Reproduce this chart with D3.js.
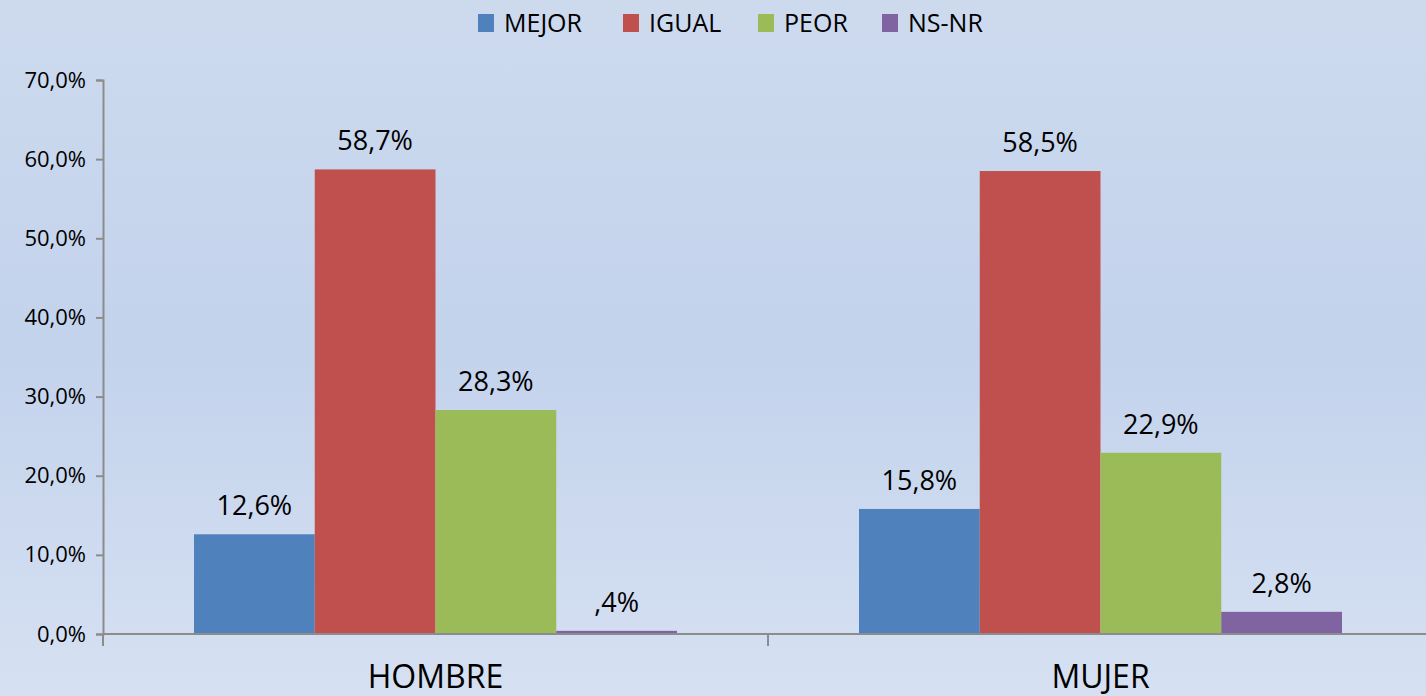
<!DOCTYPE html>
<html>
<head>
<meta charset="utf-8">
<script src="https://cdn.jsdelivr.net/npm/d3@7"></script>
<style>
  body { margin: 0; }
  svg { display: block; font-family: "Open Sans", sans-serif; }
</style>
</head>
<body>
<div id="chart"></div>
<script>
const categories = ["HOMBRE", "MUJER"];
const seriesNames = ["MEJOR", "IGUAL", "PEOR", "NS-NR"];
const seriesColors = ["#4f81bd", "#c0504d", "#9bbb59", "#8064a2"];
const mejor = [12.6, 15.8];
const igual = [58.7, 58.5];
const peor = [28.3, 22.9];
const nsnr = [0.4, 2.8];
const yTicks = [0, 10, 20, 30, 40, 50, 60, 70];

const values = [mejor, igual, peor, nsnr];
const data = categories.map((c, i) => ({
  cat: c,
  vals: seriesNames.map((s, j) => ({ key: s, value: values[j][i], color: seriesColors[j] }))
}));

const W = 1426, H = 696;
const plot = { left: 103, right: 1433, top: 80, bottom: 634 };

const svg = d3.select("#chart").append("svg")
  .attr("width", W)
  .attr("height", H);

// background gradient
const grad = svg.append("defs").append("linearGradient")
  .attr("id", "bg").attr("x1", 0).attr("y1", 0).attr("x2", 0).attr("y2", 1);
grad.append("stop").attr("offset", "0%").attr("stop-color", "#cddaee");
grad.append("stop").attr("offset", "50%").attr("stop-color", "#c3d3ec");
grad.append("stop").attr("offset", "100%").attr("stop-color", "#d6e0f2");
svg.append("rect").attr("width", W).attr("height", H).attr("fill", "url(#bg)");

const fmtNum = v => d3.format(".1f")(v).replace(".", ",");
const fmtLabel = v => {
  let s = fmtNum(v);
  if (s.startsWith("0,")) s = s.slice(1);
  return s + "%";
};

const x0 = d3.scaleBand().domain(categories).range([plot.left, plot.right]);
const x1 = d3.scaleBand().domain(seriesNames).range([91, x0.bandwidth() - 91]);
const y = d3.scaleLinear().domain([0, 70]).range([plot.bottom, plot.top]);

// bars
const groups = svg.selectAll(".grp")
  .data(data)
  .enter().append("g")
  .attr("class", "grp")
  .attr("transform", d => "translate(" + x0(d.cat) + ",0)");

groups.selectAll("rect")
  .data(d => d.vals)
  .enter().append("rect")
  .attr("x", d => x1(d.key))
  .attr("width", x1.bandwidth())
  .attr("y", d => y(d.value))
  .attr("height", d => y(0) - y(d.value))
  .attr("fill", d => d.color);

groups.selectAll("text")
  .data(d => d.vals)
  .enter().append("text")
  .attr("x", d => x1(d.key) + x1.bandwidth() / 2)
  .attr("y", d => y(d.value) - 19)
  .attr("text-anchor", "middle")
  .style("font-size", "27px")
  .style("fill", "#000")
  .text(d => fmtLabel(d.value));

// y axis
const yAxis = d3.axisLeft(y)
  .tickValues(yTicks)
  .tickSize(7)
  .tickPadding(10)
  .tickFormat(d => fmtNum(d) + "%");

svg.append("g")
  .attr("transform", "translate(" + plot.left + ",0)")
  .call(yAxis)
  .call(g => g.selectAll("line, path").attr("stroke", "#8c8c8c").attr("stroke-width", 2))
  .call(g => g.selectAll("text").style("font-size", "22px").style("fill", "#000").attr("font-family", "Open Sans"));

// x axis
const xAxis = d3.axisBottom(x0)
  .tickSize(0)
  .tickPadding(31);

svg.append("g")
  .attr("transform", "translate(0," + plot.bottom + ")")
  .call(xAxis)
  .call(g => g.select(".domain").attr("stroke", "#8c8c8c").attr("stroke-width", 2).attr("d", "M" + plot.left + ",0H" + plot.right))
  .call(g => g.selectAll("text").style("font-size", "32px").style("fill", "#000").attr("font-family", "Open Sans"));

// category boundary ticks
svg.append("g").selectAll("line")
  .data(categories.map(c => x0(c)).concat([plot.right]))
  .enter().append("line")
  .attr("x1", d => d).attr("x2", d => d)
  .attr("y1", plot.bottom).attr("y2", plot.bottom + 12)
  .attr("stroke", "#8c8c8c").attr("stroke-width", 2);

// legend
const legendX = [478, 623, 758, 882];
const legend = svg.append("g").selectAll("g")
  .data(seriesNames)
  .enter().append("g")
  .attr("transform", (d, i) => "translate(" + legendX[i] + ",14)");
legend.append("rect")
  .attr("width", 16).attr("height", 18)
  .attr("fill", (d, i) => seriesColors[i]);
legend.append("text")
  .attr("x", 26).attr("y", 18)
  .style("font-size", "25px")
  .text(d => d);
</script>
</body>
</html>
